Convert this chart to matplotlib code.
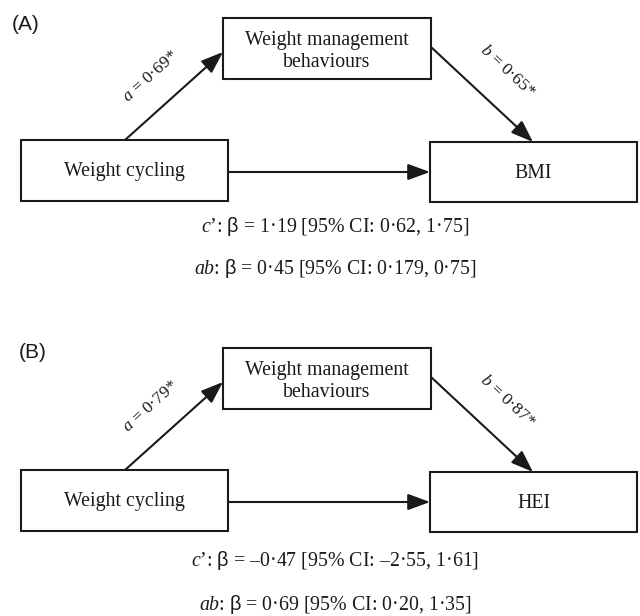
import matplotlib
matplotlib.use("Agg")
import matplotlib.pyplot as plt
from matplotlib.patches import Rectangle

plt.rcParams['mathtext.fontset'] = 'custom'
plt.rcParams['mathtext.rm'] = 'Liberation Serif'
plt.rcParams['mathtext.it'] = 'Liberation Serif:italic'
plt.rcParams['mathtext.sf'] = 'Liberation Sans'

# ---- data ----
panel_labels = ["(A)", "(B)"]
predictor = "Weight cycling"
mediator = "Weight management\nbehaviours"
outcomes = ["BMI", "HEI"]
a_coef = ["0·69*", "0·79*"]
b_coef = ["0·65*", "0·87*"]
c_prime = ["1·19 [95% CI: 0·62, 1·75]", "–0·47 [95% CI: –2·55, 1·61]"]
ab_eff = ["0·45 [95% CI: 0·179, 0·75]", "0·69 [95% CI: 0·20, 1·35]"]

W, H = 640, 616
fig = plt.figure(figsize=(W / 100, H / 100), dpi=100)
ax = fig.add_axes([0, 0, 1, 1])
ax.set_xlim(0, W)
ax.set_ylim(H, 0)
ax.axis('off')

SERIF = 'Liberation Serif'
FS = 14.3
LW = 1.5
INK = '#1a1a1a'

def box(x0, y0, x1, y1, text, dy=1):
    ax.add_patch(Rectangle((x0, y0), x1 - x0, y1 - y0, fill=False,
                           edgecolor=INK, linewidth=LW))
    ax.text((x0 + x1) / 2, (y0 + y1) / 2 + dy, text, ha='center', va='center',
            family=SERIF, fontsize=FS, color=INK, linespacing=1.2)

def arrow(x0, y0, x1, y1):
    ax.annotate('', xy=(x1, y1), xytext=(x0, y0),
                arrowprops=dict(arrowstyle='-|>,head_length=0.9,head_width=0.33',
                                color=INK, lw=LW, shrinkA=0, shrinkB=0,
                                mutation_scale=15))

offsets = [0, 330]
label_x = [12, 19]
for i, off in enumerate(offsets):
    ax.text(label_x[i], 24 + off + (-2 if i else 0), panel_labels[i], ha='left', va='center',
            family='Liberation Sans', fontsize=15, color=INK)
    # boxes
    box(223, 18 + off, 431, 79 + off, mediator, dy=3)
    box(21, 140 + off, 228, 201 + off, predictor)
    box(430, 142 + off, 637, 202 + off, outcomes[i])
    # arrows
    arrow(125, 140 + off, 223, 52 + off)
    arrow(431, 47 + off, 533, 142 + off)
    arrow(228, 172 + off, 430, 172 + off)
    # path labels
    ax.text(151, 76 + off, r"$a$ = " + a_coef[i], rotation=42, ha='center', va='center',
            family=SERIF, fontsize=12.5, color=INK, rotation_mode='anchor')
    ax.text(507, 71 + off, r"$b$ = " + b_coef[i], rotation=-43, ha='center', va='center',
            family=SERIF, fontsize=12.5, color=INK, rotation_mode='anchor')
    # effects
    ax.text(335, 227 + off + (0 if i == 0 else 4), r"$c$ʼ: $\mathsf{β}$ = " + c_prime[i],
            ha='center', va='center', family=SERIF, fontsize=FS, color=INK)
    ax.text(335, 269 + off + (0 if i == 0 else 5), r"$ab$: $\mathsf{β}$ = " + ab_eff[i],
            ha='center', va='center', family=SERIF, fontsize=FS, color=INK)

fig.savefig("out.png", dpi=100, facecolor='white')
